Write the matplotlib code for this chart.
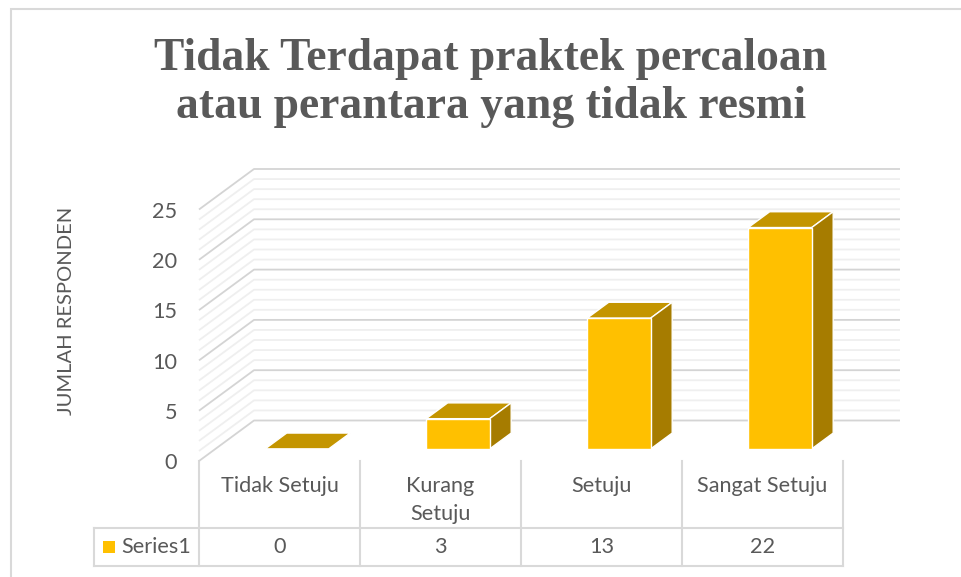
import matplotlib
matplotlib.use("Agg")
import matplotlib.pyplot as plt
from matplotlib.patches import Polygon
from matplotlib.lines import Line2D

categories = ["Tidak Setuju", "Kurang\nSetuju", "Setuju", "Sangat Setuju"]
values = [0, 3, 13, 22]
series_name = "Series1"
y_ticks = [0, 5, 10, 15, 20, 25]
title = "Tidak Terdapat praktek percaloan\natau perantara yang tidak resmi"
y_label = "JUMLAH RESPONDEN"

W, H = 962, 577
X0, Y0 = 199, 461          # pixel of category-axis origin / value 0
PX_CAT, PX_VAL = 161.0, 10.06
fig = plt.figure(figsize=(W / 100, H / 100), dpi=100, facecolor="white")
ax = fig.add_axes([0, 0, 1, 1])
ax.set_xlim(-X0 / PX_CAT, (W - X0) / PX_CAT)
ax.set_ylim((Y0 - H) / PX_VAL, Y0 / PX_VAL)
ax.axis("off")

DEPTH_X, DEPTH_Y = 55 / PX_CAT, 40.5 / PX_VAL   # full depth of the 3-D box
N = len(categories)
TEXT = "#595959"
MAJOR, MINOR, BORDER = "#D4D4D4", "#EFEFEF", "#D9D9D9"
FACE, TOP, SIDE = "#FFC000", "#C49500", "#A67C00"
SANS = "Lato"


def proj(x, y, d=0.0):
    return (x + d * DEPTH_X, y + d * DEPTH_Y)


# outer frame: only the top and left edges are inside the crop
fx, fy = 10.5 / W, 1 - 8.5 / H
ax.add_line(Line2D([fx, fx, 1], [0, fy, fy], transform=ax.transAxes, color=BORDER,
                   lw=1.5, solid_joinstyle="miter"))

# grid on side and back walls
x_end = (900 - X0 - 55) / PX_CAT
for v in range(y_ticks[-1] + 1):
    major = v % 5 == 0
    c, lw = (MAJOR, 1.3) if major else (MINOR, 1.3)
    z = 3 if major else 2
    xs, ys = zip(proj(0, v, 0), proj(0, v, 1), proj(x_end, v, 1))
    ax.plot(xs, ys, color=c, lw=lw, zorder=z, solid_capstyle="butt")

# bars
BAR_W = 63.5 / PX_CAT
BAR_SHIFT = 1 / PX_CAT
DF, DB = 0.30, 0.69    # front and back depth of bars
for i, v in enumerate(values):
    cx = i + 0.5 + BAR_SHIFT
    xl, xr = cx - BAR_W / 2, cx + BAR_W / 2
    top = [proj(xl, v, DF), proj(xr, v, DF), proj(xr, v, DB), proj(xl, v, DB)]
    ax.add_patch(Polygon(top, fc=TOP, ec="white", lw=1.0, zorder=5))
    if v > 0:
        side = [proj(xr, 0, DF), proj(xr, v, DF), proj(xr, v, DB), proj(xr, 0, DB)]
        ax.add_patch(Polygon(side, fc=SIDE, ec="white", lw=1.0, zorder=5))
        front = [proj(xl, 0, DF), proj(xr, 0, DF), proj(xr, v, DF), proj(xl, v, DF)]
        ax.add_patch(Polygon(front, fc=FACE, ec="white", lw=1.0, zorder=6))

# y tick labels
for t in y_ticks:
    ax.text(-0.135, t - 0.22, str(t), ha="right", va="center", fontsize=15.6,
            color=TEXT, family=SANS)

# y axis title
ax.text(-0.82, 14.9, y_label, rotation=90, ha="center", va="center", fontsize=14.5,
        color=TEXT, family=SANS)

# data table
row1 = -(527.7 - Y0) / PX_VAL
row2 = -(566 - Y0) / PX_VAL
left = (94 - X0) / PX_CAT
for i in range(N + 1):
    ax.plot([i, i], [0, row2], color=BORDER, lw=1.5, zorder=2)
ax.plot([left, N], [row1, row1], color=BORDER, lw=1.5, zorder=2)
ax.plot([left, N], [row2, row2], color=BORDER, lw=1.5, zorder=2)
ax.plot([left, left], [row1, row2], color=BORDER, lw=1.5, zorder=2)
for i, (c, v) in enumerate(zip(categories, values)):
    ax.text(i + 0.5, -1.45, c, ha="center", va="top", fontsize=15.6, color=TEXT,
            family=SANS, linespacing=1.55)
    ax.text(i + 0.5, (row1 + row2) / 2 - 0.05, str(v), ha="center", va="center", fontsize=15.6,
            color=TEXT, family=SANS)
ax.text(-0.48, (row1 + row2) / 2 - 0.05, series_name, ha="left", va="center", fontsize=15.6,
        color=TEXT, family=SANS)
ax.plot([-0.556], [(row1 + row2) / 2], marker="s", ms=8, color=FACE, mew=0)

# title
ax.text(491 / W, 1 - 83 / H, title, transform=ax.transAxes, ha="center", va="center",
        fontsize=32.8, fontweight="bold", color=TEXT, family="Liberation Serif",
        linespacing=1.19)

fig.savefig("out.png", dpi=100, facecolor="white")
